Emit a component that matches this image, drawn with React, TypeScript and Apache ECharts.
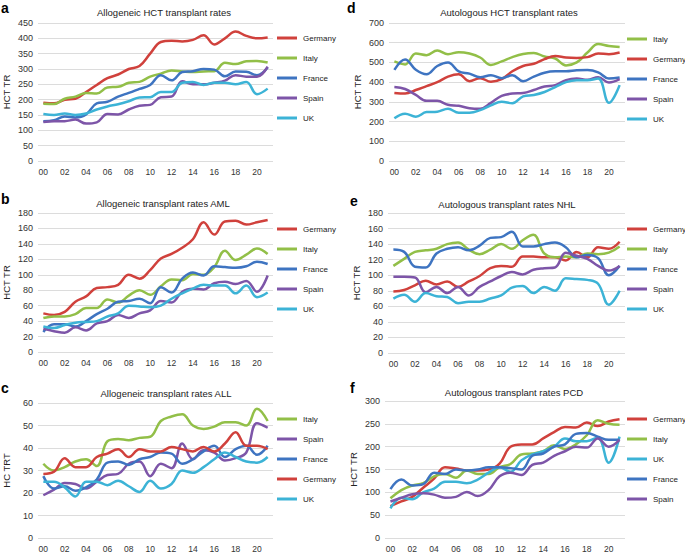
import React, { useEffect, useRef } from "react";
import * as echarts from "echarts";

const years = ["00","01","02","03","04","05","06","07","08","09","10","11","12","13","14","15","16","17","18","19","20","21"];

// a: Allogeneic HCT transplant rates
const aGermany = [190,188,200,203,225,248,270,282,300,310,350,388,392,390,395,410,380,400,422,408,400,403];
const aItaly = [187,186,203,210,222,220,240,242,255,258,275,285,295,292,290,292,293,320,316,325,326,321];
const aFrance = [130,133,145,142,152,188,193,210,222,235,248,280,263,290,293,300,298,276,292,291,280,305];
const aSpain = [127,130,130,135,122,126,153,152,168,180,183,208,210,260,250,250,255,262,280,275,275,308];
const aUK = [153,150,155,150,155,168,178,185,195,207,208,225,225,255,258,248,255,255,250,258,218,236];

// d: Autologous HCT transplant rates
const dItaly = [505,490,545,537,560,542,552,545,525,487,505,527,543,548,530,520,485,500,550,593,583,578];
const dGermany = [345,342,360,380,400,428,440,405,420,402,415,455,482,493,517,532,525,523,527,545,542,550];
const dFrance = [462,515,463,440,482,500,455,443,425,435,420,435,405,428,448,455,455,460,462,450,418,423];
const dSpain = [375,365,335,305,305,285,280,268,265,295,330,342,345,360,378,385,410,418,412,425,398,415];
const dUK = [217,240,225,248,250,265,245,245,258,282,300,293,328,335,350,375,400,410,410,418,295,385];

// b: Allogeneic transplant rates AML
const bGermany = [50,48,52,65,72,83,84,87,100,95,106,121,127,135,146,168,152,169,170,165,168,171];
const bItaly = [44,46,46,49,57,57,68,64,73,80,74,85,94,93,101,100,110,131,119,126,134,127];
const bFrance = [26,36,36,33,40,49,56,65,66,69,63,84,77,95,103,99,111,110,109,111,117,114];
const bSpain = [30,27,25,32,28,37,40,48,44,50,54,66,64,78,82,81,89,91,88,92,78,99];
const bUK = [33,31,35,38,39,40,46,50,60,59,58,60,69,76,82,87,86,86,76,86,71,77];

// e: Autologous transplant rates NHL
const eGermany = [79,81,87,93,88,92,85,92,99,109,112,111,124,124,123,123,119,130,123,136,134,143];
const eItaly = [112,121,130,132,134,140,142,133,127,133,140,134,145,152,128,123,124,123,128,127,129,137];
const eFrance = [133,130,111,110,128,134,136,132,138,148,149,156,137,137,140,142,136,123,126,122,100,112];
const eSpain = [98,98,97,78,85,77,85,74,85,92,99,104,101,107,109,110,129,125,121,112,106,112];
const eUK = [70,75,66,77,73,72,64,66,66,70,74,84,86,77,85,80,96,95,94,89,62,80];

// c: Allogeneic transplant rates ALL
const cItaly = [33,30,31.5,34,35,32,43,44,43.5,44.5,45,52,54,55,50,48.5,49.5,51.5,51.5,50,57.5,52];
const cSpain = [19,21.5,24.5,24,22,25,28,28.5,33,34,27.5,33,31,42,35,39,38,34.5,35.5,38,51,49];
const cFrance = [27.5,22,23,21,22.5,26,33.5,34,32.5,35,36,38,37.5,33,35,38.5,41,36,39.5,41,37,41];
const cGermany = [28.5,29.5,35.5,31.5,31.5,36,37.5,39.5,36,39.5,38.5,38.5,40.5,39.5,38.5,40.5,38.5,42,47,41,41,39.5];
const cUK = [25,25,22.5,18.5,25,25,23.5,25.5,23,20.5,25.5,22,24,30,29,31.5,35,38,36,34,33.5,36];

// f: Autologous transplant rates PCD
const fGermany = [70,80,90,110,130,155,152,148,148,150,163,200,205,205,218,232,243,242,253,245,255,260];
const fItaly = [87,105,115,120,135,140,132,148,140,140,155,162,183,185,190,203,195,205,225,258,250,248];
const fUK = [65,88,85,100,108,123,123,120,128,143,155,145,170,183,190,200,218,212,212,220,165,222];
const fFrance = [107,128,115,118,143,140,150,148,150,155,155,153,150,180,185,200,205,228,230,222,215,215];
const fSpain = [80,88,96,98,95,88,90,101,92,105,135,143,138,160,165,180,190,200,198,218,200,215];

const colors: Record<string, string> = {
  Germany: "#d0413c",
  Italy: "#92bf48",
  France: "#3e74c1",
  Spain: "#7d55a8",
  UK: "#3cb3d6",
};

type Panel = {
  letter: string;
  title: string;
  yName: string;
  max: number;
  interval: number;
  series: [string, number[]][];
  grid: { left: number; top: number; width: number; height: number };
  legend: { left: number; top: number };
  titlePos: [number, number];
  letterPos: [number, number];
};

const panels: Panel[] = [
  {
    letter: "a", title: "Allogeneic HCT transplant rates", yName: "HCT TR", max: 450, interval: 50,
    series: [["Germany", aGermany], ["Italy", aItaly], ["France", aFrance], ["Spain", aSpain], ["UK", aUK]],
    grid: { left: 37, top: 23, width: 236, height: 138 }, legend: { left: 277, top: 32 },
    titlePos: [164, 12], letterPos: [1, 8],
  },
  {
    letter: "d", title: "Autologous HCT transplant rates", yName: "HCT TR", max: 700, interval: 100,
    series: [["Italy", dItaly], ["Germany", dGermany], ["France", dFrance], ["Spain", dSpain], ["UK", dUK]],
    grid: { left: 389, top: 23, width: 236, height: 138 }, legend: { left: 627, top: 33 },
    titlePos: [509, 12], letterPos: [347, 8],
  },
  {
    letter: "b", title: "Allogeneic transplant rates AML", yName: "HCT TR", max: 180, interval: 20,
    series: [["Germany", bGermany], ["Italy", bItaly], ["France", bFrance], ["Spain", bSpain], ["UK", bUK]],
    grid: { left: 37, top: 213, width: 236, height: 139 }, legend: { left: 277, top: 223 },
    titlePos: [163, 203], letterPos: [1, 199],
  },
  {
    letter: "e", title: "Autologous transplant rates NHL", yName: "HCT TR", max: 180, interval: 20,
    series: [["Germany", eGermany], ["Italy", eItaly], ["France", eFrance], ["Spain", eSpain], ["UK", eUK]],
    grid: { left: 388, top: 213, width: 237, height: 140 }, legend: { left: 627, top: 223 },
    titlePos: [507, 204], letterPos: [350, 201],
  },
  {
    letter: "c", title: "Allogeneic transplant rates ALL", yName: "HC TRT", max: 60, interval: 10,
    series: [["Italy", cItaly], ["Spain", cSpain], ["France", cFrance], ["Germany", cGermany], ["UK", cUK]],
    grid: { left: 37, top: 403, width: 236, height: 139 }, legend: { left: 277, top: 413 },
    titlePos: [166, 393], letterPos: [1, 388],
  },
  {
    letter: "f", title: "Autologous transplant rates PCD", yName: "HCT TR", max: 300, interval: 50,
    series: [["Germany", fGermany], ["Italy", fItaly], ["UK", fUK], ["France", fFrance], ["Spain", fSpain]],
    grid: { left: 385, top: 401, width: 240, height: 138 }, legend: { left: 627, top: 413 },
    titlePos: [514, 392], letterPos: [350, 388],
  },
];

const FONT = "Liberation Sans, Arial, Helvetica, sans-serif";

export default function App() {
  const ref = useRef<HTMLDivElement>(null);
  useEffect(() => {
    if (!ref.current) return;
    const chart = echarts.init(ref.current, undefined, { renderer: "svg" });
    const grid: any[] = [];
    const xAxis: any[] = [];
    const yAxis: any[] = [];
    const series: any[] = [];
    const legend: any[] = [];
    const graphic: any[] = [];
    panels.forEach((p, i) => {
      grid.push({ ...p.grid, containLabel: false });
      xAxis.push({
        type: "category", gridIndex: i, data: years, boundaryGap: true,
        axisLine: { show: false }, axisTick: { show: false },
        axisLabel: { interval: 1, color: "#333", fontSize: 8.5, fontFamily: FONT, margin: 6 },
      });
      yAxis.push({
        type: "value", gridIndex: i, min: 0, max: p.max, interval: p.interval,
        name: p.yName, nameLocation: "middle", nameGap: 27, nameRotate: 90,
        nameTextStyle: { color: "#222", fontSize: 9.5, fontFamily: FONT },
        axisLine: { show: false }, axisTick: { show: false },
        axisLabel: { color: "#333", fontSize: 9, fontFamily: FONT, margin: 5 },
        splitLine: { lineStyle: { color: "#dcdcdc", width: 1 } },
      });
      p.series.forEach(([name, data]) => {
        series.push({
          type: "line", name, xAxisIndex: i, yAxisIndex: i, data,
          smooth: 0.4, showSymbol: false, symbol: "none",
          lineStyle: { color: colors[name], width: 2.5 },
          itemStyle: { color: colors[name] },
        });
      });
      legend.push({
        orient: "vertical", left: p.legend.left, top: p.legend.top,
        data: p.series.map(([n]) => ({ name: n, icon: "rect", itemStyle: { color: colors[n] } })),
        itemWidth: 20, itemHeight: 3, itemGap: 8,
        textStyle: { color: "#222", fontSize: 8, lineHeight: 12, fontFamily: FONT, padding: [0, 0, 0, 1] },
        padding: 0, selectedMode: false,
      });
      graphic.push({
        type: "text", x: p.titlePos[0], y: p.titlePos[1],
        style: { text: p.title, fontSize: 9.5, fontFamily: FONT, fill: "#222", textAlign: "center", textVerticalAlign: "middle" },
      });
      graphic.push({
        type: "text", x: p.letterPos[0], y: p.letterPos[1],
        style: { text: p.letter, fontSize: 14, fontWeight: "bold", fontFamily: FONT, fill: "#000", textAlign: "left", textVerticalAlign: "middle" },
      });
    });
    chart.setOption({
      animation: false,
      backgroundColor: "#fff",
      grid, xAxis, yAxis, series, legend, graphic,
    });
    return () => chart.dispose();
  }, []);
  return <div ref={ref} style={{ position: "absolute", left: 0, top: 0, width: 685, height: 553 }} />;
}
